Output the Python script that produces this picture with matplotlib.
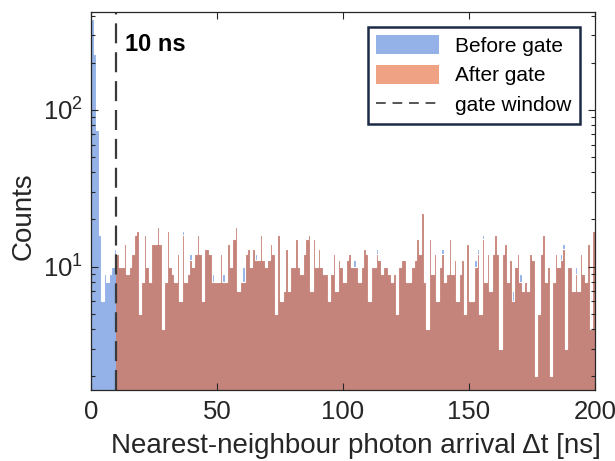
import numpy as np
import matplotlib
matplotlib.use("Agg")
import matplotlib.pyplot as plt
from matplotlib.lines import Line2D
from matplotlib.patches import Patch
from matplotlib.ticker import LogLocator, NullFormatter

plt.rcParams['font.family'] = ['Liberation Sans', 'DejaVu Sans']
plt.rcParams['mathtext.fontset'] = 'custom'
plt.rcParams['mathtext.rm'] = 'Liberation Sans'
plt.rcParams['mathtext.it'] = 'Liberation Sans:italic'
plt.rcParams['mathtext.default'] = 'regular'

# 1 ns bins from 0 to 200 ns
bin_edges = np.arange(0, 201, 1)
gate_ns = 10

# counts per bin, all photons (bins 0..199)
before_gate = [
    380, 228, 75, 16, 6, 9, 8, 9, 10, 13,
    12, 10, 10, 14, 9, 10, 12, 16, 17, 5,
    8, 16, 10, 8, 14, 14, 18, 14, 4, 8,
    17, 10, 9, 8, 12, 6, 17, 8, 9, 12,
    10, 12, 16, 12, 6, 13, 13, 12, 9, 8,
    8, 12, 9, 8, 14, 10, 15, 18, 7, 8,
    10, 12, 13, 10, 13, 12, 11, 16, 11, 10,
    11, 14, 12, 5, 16, 6, 7, 13, 7, 10,
    10, 15, 10, 9, 12, 15, 16, 7, 15, 10,
    13, 10, 9, 9, 6, 9, 12, 7, 11, 10,
    8, 11, 12, 10, 11, 10, 8, 10, 13, 12,
    6, 10, 10, 13, 11, 9, 10, 10, 9, 8,
    9, 5, 10, 11, 11, 8, 8, 10, 11, 15,
    12, 22, 8, 4, 15, 9, 12, 6, 10, 13,
    8, 9, 15, 9, 11, 6, 9, 11, 5, 14,
    6, 6, 11, 13, 5, 16, 8, 12, 7, 12,
    16, 12, 3, 12, 14, 8, 11, 7, 10, 12,
    9, 7, 8, 7, 12, 11, 2, 5, 12, 16,
    8, 10, 2, 8, 12, 10, 12, 14, 3, 10,
    10, 7, 10, 7, 12, 9, 8, 14, 4, 17,
]

# counts per bin after the gate (bins 10..199)
after_gate = [
    12, 10, 10, 14, 9, 10, 12, 16, 17, 5,
    8, 16, 10, 8, 14, 14, 18, 14, 4, 8,
    17, 10, 9, 8, 12, 6, 16, 8, 9, 11,
    10, 12, 16, 12, 6, 13, 13, 12, 8, 8,
    8, 12, 8, 8, 14, 10, 15, 18, 7, 8,
    8, 12, 13, 10, 13, 11, 11, 16, 11, 10,
    11, 14, 12, 5, 16, 6, 7, 13, 7, 10,
    10, 15, 10, 9, 12, 15, 16, 7, 15, 10,
    13, 10, 9, 9, 6, 9, 12, 7, 11, 10,
    8, 11, 12, 10, 10, 10, 8, 10, 13, 12,
    6, 10, 10, 12, 11, 9, 10, 10, 9, 8,
    9, 5, 10, 11, 11, 8, 8, 10, 11, 15,
    12, 22, 8, 4, 15, 9, 12, 6, 10, 12,
    8, 9, 15, 9, 11, 6, 9, 11, 5, 14,
    6, 6, 10, 12, 5, 15, 8, 12, 7, 12,
    16, 12, 3, 12, 14, 8, 11, 6, 10, 12,
    8, 7, 8, 7, 12, 11, 2, 5, 12, 16,
    8, 10, 2, 8, 12, 10, 11, 13, 3, 10,
    10, 7, 9, 7, 12, 9, 8, 14, 4, 17,
]

x_ticks = [0, 50, 100, 150, 200]
series_labels = ['Before gate', 'After gate', 'gate window']

blue = (0.30, 0.50, 0.85)
orange = (0.90, 0.40, 0.20)
ink = '#262626'
gate_color = '#3a3a3a'

fig = plt.figure(figsize=(6.15, 4.61), dpi=100)
ax = fig.add_axes([0.148, 0.154, 0.8195, 0.8206])
ax.set_yscale('log')

ax.stairs(before_gate, bin_edges, fill=True, baseline=1, color=blue,
          alpha=0.6, lw=0)
ax.stairs(before_gate, bin_edges, baseline=None, color='white', lw=0.8)
ax.stairs(after_gate, bin_edges[gate_ns:], fill=True, baseline=1, color=orange,
          alpha=0.6, lw=0)
ax.stairs(after_gate, bin_edges[gate_ns:], baseline=None, color='white', lw=0.8)
ax.axvline(gate_ns, color=gate_color, lw=1.6, ls=(0, (9, 4)))

ax.set_xlim(0, 200)
ax.set_ylim(1.63, 424)
ax.set_xticks(x_ticks)
ax.yaxis.set_major_locator(LogLocator(base=10))
ax.yaxis.set_minor_locator(LogLocator(base=10, subs=np.arange(2, 10)))
ax.yaxis.set_minor_formatter(NullFormatter())

ax.tick_params(which='both', direction='in', top=True, right=True,
               colors=ink, width=0.8, labelsize=18.5)
ax.tick_params(which='major', length=5)
ax.tick_params(which='minor', length=3)
ax.tick_params(axis='y', pad=6)
ax.tick_params(axis='x', pad=7)
for s in ax.spines.values():
    s.set_color(ink)
    s.set_linewidth(0.9)

ax.set_xlabel('Nearest-neighbour photon arrival \u0394t [ns]', fontsize=20,
              color=ink)
ax.xaxis.set_label_coords(0.526, -0.113)
ax.set_ylabel('Counts', fontsize=20, color=ink)
ax.yaxis.set_label_coords(-0.108, 0.46)

ax.text(0.0675, 0.913, '10 ns', transform=ax.transAxes, fontsize=17,
        fontweight='bold', va='center', ha='left', color='black')

handles = [
    Patch(facecolor=blue, alpha=0.6, lw=0),
    Patch(facecolor=orange, alpha=0.6, lw=0),
    Line2D([], [], color='#555555', lw=1.4, ls=(0, (5, 3.5))),
]
leg = ax.legend(handles, series_labels, loc='upper right',
                bbox_to_anchor=(0.970, 0.960), fontsize=15,
                frameon=True, fancybox=False, edgecolor='#1c2b45', framealpha=1,
                handlelength=3.0, handleheight=1.0, handletextpad=0.8,
                labelspacing=0.45, borderpad=0.4, borderaxespad=0)
leg.get_frame().set_linewidth(1.8)

fig.savefig('out.png', dpi=100)
